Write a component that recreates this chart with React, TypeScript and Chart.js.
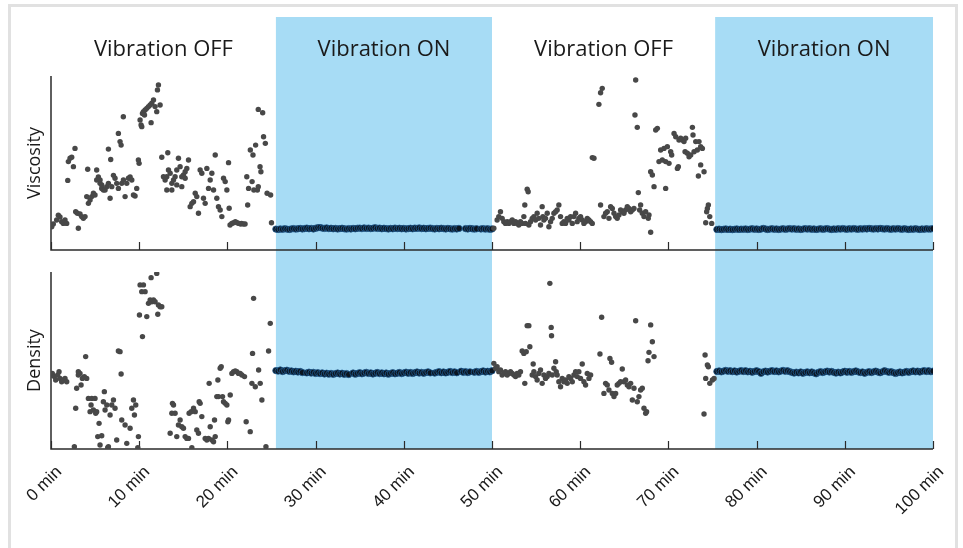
import React, { useEffect, useRef } from 'react';
import { Chart, registerables } from 'chart.js';

Chart.register(...registerables);

// ---------- tick labels / sections ----------
const X_TICKS = [0, 10, 20, 30, 40, 50, 60, 70, 80, 90, 100];
const SECTION_STARTS = [0, 25.5, 50, 75.3];
const SECTION_ENDS = [25.5, 50, 75.3, 100];
const SECTION_LABELS = ['Vibration OFF', 'Vibration ON', 'Vibration OFF', 'Vibration ON'];
const SECTION_ON = [false, true, false, true];

// ---------- Viscosity, vibration OFF: [minute, value] ----------
const viscOff1: number[][] = [
  [0.08, 13.4], [0.26, 15], [0.64, 17.2], [0.83, 20], [1.02, 19], [1.21, 16.3], [1.4, 15.3], [1.59, 17.2], [1.78, 15.3],
  [1.9, 40], [1.97, 50.8], [2.16, 52.7], [2.35, 53.3], [2.54, 47.9], [2.72, 58.4],
  [2.8, 22], [2.99, 21.1], [3.29, 20.7], [3.48, 19.2], [3.67, 18.2], [3.86, 19.2], [3.1, 12.5],
  [4.05, 30.7], [4.24, 26.8], [4.43, 28.7], [4.62, 30.7], [4.81, 32.6], [4.99, 31.6], [4.16, 46.4],
  [5.18, 46], [5.37, 42], [5.56, 38.3], [5.75, 35.4], [5.94, 34.5], [5.18, 40.2], [5.56, 40.2], [5.75, 37.4],
  [6.13, 34.5], [6.32, 36.4], [6.51, 38.3], [6.51, 58], [6.77, 52], [6.7, 29.7], [6.89, 36.4], [7.08, 42.9],
  [7.26, 41.2], [7.45, 38.3], [7.64, 35.4], [8.02, 38.3], [8.21, 40.2],
  [7.64, 67], [7.83, 62.3], [7.95, 60.3], [8.2, 76.6],
  [8.4, 30.7], [8.59, 38.3], [8.78, 41.2], [8.97, 42], [9.16, 40.2], [9.35, 31.6], [9.53, 31], [9.72, 35.4], [9.91, 51.7], [9.99, 49.8],
  [10.1, 74.7], [10.21, 71.8], [10.29, 70.9], [10.37, 78.5], [10.48, 79.5], [10.6, 77.6], [10.67, 80.5], [10.86, 81.4],
  [11.05, 82.4], [11.24, 83.3], [11.35, 73.2], [11.43, 84.3], [11.62, 86.2], [11.8, 82.4], [11.99, 79.5], [12.07, 92], [12.18, 94.8], [12.37, 83.3],
  [12.56, 53.3], [13.24, 55.9], [12.75, 42.1], [12.94, 40.2], [13.13, 42.1], [13.32, 46], [13.51, 44.1], [13.7, 38.3], [13.89, 40.2],
  [14.07, 42.1], [14.26, 46], [14.45, 52.7], [14.64, 47.9], [14.83, 42.1], [15.02, 43.1], [15.21, 45], [15.4, 46.9], [15.59, 51.7],
  [13.13, 34.5], [13.7, 34.5], [14.26, 37.4], [14.83, 36.4], [15.21, 41.2],
  [15.78, 24.9], [15.97, 26.8], [16.16, 27.8], [16.35, 32.6], [16.53, 30.7], [16.72, 21.1], [16.91, 46], [17.1, 44.1], [17.29, 29.7],
  [17.48, 26.8], [17.67, 46.9], [17.86, 35.4], [18.05, 40.2], [18.24, 44.1], [18.43, 34.5], [18.62, 54.6], [18.8, 29.7], [18.99, 24.9],
  [19.18, 23], [19.37, 19.2], [19.56, 41.2], [19.75, 39.3], [19.94, 34.5], [20.13, 50.2], [20.2, 24],
  [20.3, 14.4], [20.5, 15.3], [20.7, 15.7], [20.9, 16.3], [21.1, 15.7], [21.3, 15.3], [21.5, 14.9], [21.6, 15.3], [21.8, 14.9], [22.0, 14.9],
  [22.2, 42.1], [22.3, 25.9], [22.4, 35.4], [22.6, 57.5], [22.8, 39.3], [22.9, 54.6], [23.0, 34.5], [23.2, 60.3], [23.4, 34.5],
  [23.5, 80.8], [23.5, 36.4], [23.7, 47.9], [23.8, 45], [24.0, 78.9], [24.1, 65.1], [24.3, 61.3], [24.5, 32.6], [24.9, 31.6], [25.0, 15.7],
];

const viscOff2: number[][] = [
  [50.21, 12.5], [50.58, 17.2], [50.77, 19.2], [50.96, 22], [51.15, 18.2], [51.34, 16.3], [51.53, 15.3], [51.72, 16.3], [51.91, 15.3],
  [52.1, 16.3], [52.29, 17.2], [52.48, 15.3], [52.67, 16.3], [52.85, 15.3], [53.04, 14.4], [53.23, 16.3], [53.42, 15.3], [53.61, 19.2],
  [53.72, 25.9], [53.8, 15.3], [53.99, 34.9], [54.1, 33.5], [54.18, 14.4], [54.37, 16.3], [54.56, 18.2], [54.75, 19.2], [54.94, 17.2],
  [55.12, 21.1], [55.31, 18.2], [55.5, 14.4], [55.69, 24.9], [55.77, 19.2], [55.88, 17.2], [56.07, 18.2], [56.26, 21.1], [56.45, 13.4],
  [56.64, 16.3], [56.83, 18.2], [57.02, 21.1], [57.21, 22], [57.39, 23], [57.58, 25.9], [57.77, 19.2], [57.96, 15.3], [58.15, 16.3],
  [58.34, 15.3], [58.53, 18.2], [58.72, 17.2], [58.91, 19.2], [59.1, 15.3], [59.29, 19.2], [59.48, 21.1], [59.66, 16.3], [59.85, 18.2],
  [60.04, 19.2], [60.23, 17.2], [60.42, 15.3], [60.61, 16.3], [60.8, 18.2], [60.99, 17.2], [61.18, 16.3], [61.37, 15.3],
  [61.37, 53.1], [61.56, 52.7], [62.12, 83.7], [62.31, 90.4], [62.5, 92.9], [62.31, 25.9],
  [62.69, 19.2], [62.88, 21.1], [63.07, 22], [63.26, 18.2], [63.45, 24.9], [63.64, 23.9], [63.83, 21.1], [64.02, 19.2], [64.2, 18.2],
  [64.39, 20.1], [64.58, 23], [64.77, 22], [64.96, 21.1], [65.15, 23], [65.34, 24.9], [65.53, 23.9], [65.72, 22], [65.91, 23], [66.1, 23.9],
  [66.29, 97.7], [66.21, 77.6], [66.47, 70.5], [66.59, 33],
  [66.74, 23], [66.85, 25.9], [67.04, 21.1], [67.23, 19.2], [67.42, 22], [67.72, 18.2], [67.8, 20.1], [67.99, 10.2],
  [67.99, 45], [68.18, 43.1], [68.37, 36.4], [68.56, 69], [68.75, 69.9], [68.93, 50.8], [69.12, 57.5], [69.31, 51.7], [69.5, 58.4],
  [69.69, 50.8], [69.69, 35.4], [69.88, 59.4], [70.07, 49.8], [70.26, 56.5], [70.37, 54.6], [70.64, 67], [70.83, 65.1], [71.02, 46.9],
  [71.13, 47.9], [71.2, 63.2], [71.39, 64.2], [71.58, 63.2], [71.77, 62.3], [71.89, 56.5], [71.96, 64.2], [72.15, 55.6], [72.34, 53.6],
  [72.53, 54.6], [72.72, 70.5], [72.79, 66.1], [72.91, 56.5], [73.1, 62.3], [73.28, 57.5], [73.47, 62.3], [73.66, 59.4], [73.85, 58.4],
  [73.4, 42.5], [73.66, 48.9], [74.04, 45],
  [74.23, 15.7], [74.34, 22], [74.42, 23.9], [74.53, 25.9], [74.69, 19.2], [74.91, 15.3],
];

// ---------- Viscosity, vibration ON: sampled every 0.25 min ----------
const viscOn1Start = 25.5;
const viscOn1: (number | null)[] = [
  12.0, 11.8, 12.1, 11.9, 12.2, 12.0, 11.8, 12.1, 12.3, 12.0,
  12.2, 12.4, 12.1, 12.3, 12.6, 12.2, 12.4, 12.1, 12.5, 12.8,
  12.9, 12.6, 12.4, 12.7, 12.3, 12.5, 12.2, 12.4, 12.1, 12.3,
  12.5, 12.2, 12.0, 12.3, 12.1, 12.4, 12.2, 12.5, 12.6, 12.3,
  12.7, 12.4, 12.6, 12.3, 12.5, 12.8, 12.4, 12.6, 12.2, 12.5,
  12.3, 12.1, 12.4, 12.2, 12.6, 12.3, 12.5, 12.2, 12.4, 12.1,
  12.3, 12.5, 12.2, 12.6, 12.4, 12.7, 12.3, 12.5, 12.2, 12.4,
  12.6, 12.3, 12.1, 12.4, 12.2, 12.5, 12.3, 12.1, 12.4, 12.2,
  12.0, 12.3, 12.1, 12.4, null, null, 12.3, 12.1, 12.4, 12.2,
  12.0, 12.2, null, 12.1, 12.3, 12.0, 12.2, 11.9, 12.1,
];
const viscOn2Start = 75.5;
const viscOn2: (number | null)[] = [
  11.8, 12.0, 11.7, 11.9, 12.1, 11.8, 12.0, 11.7, 11.9, 12.1,
  11.8, 12.0, 11.9, 12.1, 11.8, 12.0, 12.2, 11.9, 12.1, 11.8,
  12.0, 12.4, 12.1, 11.8, 12.0, 12.2, 11.9, 12.1, 11.8, 12.0,
  12.2, 11.9, 12.1, 12.3, 12.0, 12.2, 11.9, 12.1, 11.8, 12.0,
  12.3, 12.0, 12.2, 11.9, 12.1, 11.8, 12.0, 12.2, 11.9, 12.1,
  12.3, 12.0, 11.8, 12.1, 11.9, 12.2, 12.0, 12.3, 12.1, 11.9,
  12.2, 12.0, 12.3, 12.1, 11.9, 12.2, 12.0, 12.3, 12.1, 12.4,
  12.2, 12.0, 12.3, 12.1, 12.4, 12.2, 12.0, 12.3, 12.1, 11.9,
  12.2, 12.0, 12.3, 12.1, 11.9, 12.2, 12.0, 11.8, 12.1, 11.9,
  12.2, 12.0, 11.8, 12.1, 11.9, 12.2, 12.0, 12.1, 12.3,
];

// ---------- Density, vibration OFF: [minute, value] ----------
const densOff1: number[][] = [
  [0, 41.8], [0.15, 42.7], [0.38, 40.9], [0.53, 39], [0.76, 41.8], [0.91, 43.7], [1.02, 39.9], [1.21, 38], [1.4, 39], [1.59, 39.9], [1.78, 38],
  [2.65, 1.3], [2.8, 23], [2.91, 34.3], [3.1, 41.8], [3.1, 43.7], [3.29, 42.7], [3.41, 36.2], [3.56, 39.9], [3.78, 40.9], [4.05, 39.9], [3.93, 52.2],
  [4.24, 28.6], [4.43, 21.1], [4.54, 24.9], [4.62, 28.6], [4.81, 22], [4.99, 28.6], [5.07, 20.2], [5.18, 21.1], [5.3, 7], [5.45, 14.5],
  [5.56, 2.3], [5.75, 7.5], [5.94, 26.7], [6.05, 32.4], [6.13, 22], [6.32, 24.9], [6.43, 0.8], [6.51, 1.3], [6.7, 19.2], [6.89, 24.9],
  [7.08, 27.7], [7.26, 23], [7.45, 5.1], [7.64, 55.4], [7.83, 55], [7.95, 42.4], [8.02, 16.4], [8.4, 13.6], [8.59, 3.2], [8.97, 11.7],
  [9.16, 23], [9.35, 27.7], [9.46, 19.2], [9.61, 24.9], [9.84, 0.8], [9.91, 7],
  [10.03, 75.7], [10.1, 92.7], [10.29, 88.9], [10.37, 63.5], [10.48, 92.7], [10.67, 88.9], [10.86, 74.8], [11.05, 82.3], [11.24, 84.2],
  [11.35, 96.8], [11.43, 83.2], [11.62, 84.2], [11.8, 83.2], [11.99, 99.2], [12.11, 76.1], [12.18, 81.4], [12.37, 80.4], [12.56, 80.4],
  [13.51, 8.9], [13.7, 20.2], [13.77, 25.8], [13.89, 24.9], [14.07, 20.2], [14.26, 7], [14.45, 13.6], [14.64, 16.4], [14.83, 12.6],
  [15.02, 11.7], [15.21, 7], [15.4, 6], [15.59, 6], [15.66, 20.2], [15.89, 21.1], [15.97, 0.8], [16.16, 23], [16.35, 21.1], [16.53, 10.7],
  [16.72, 8.9], [16.8, 26.7], [16.91, 25.8], [17.1, 18.3], [17.48, 6], [17.67, 5.1], [17.86, 6], [17.93, 37.1], [18.05, 12.6], [18.24, 5.1],
  [18.43, 4.1], [18.54, 16.4], [18.62, 7], [18.8, 29.6], [18.92, 39], [18.99, 29.6], [19.18, 45.6], [19.3, 46.5], [19.45, 29.6],
  [19.56, 26.7], [19.75, 25.8], [19.94, 24.9], [20.05, 15.4], [20.13, 16.4], [20.32, 30.5], [20.51, 42.7], [20.7, 43.7], [20.89, 44.1],
  [21.07, 43.7], [21.26, 42.7], [21.45, 42.7], [21.64, 41.8], [21.94, 40.9], [22.13, 15.4], [22.59, 9.8], [22.78, 37.1], [22.85, 54],
  [22.97, 85.1], [23.16, 35.2], [23.54, 44.6], [23.72, 37.1], [23.91, 27.7], [24.37, 1.3], [24.67, 55.4], [24.86, 71],
];

const densOff2: number[][] = [
  [50.21, 48.4], [50.4, 45.6], [50.58, 46.5], [50.77, 43.7], [50.96, 44.6], [51.15, 41.8], [51.34, 42.7], [51.53, 43.7], [51.72, 41.8],
  [51.91, 42.7], [52.1, 43.7], [52.29, 42.7], [52.48, 41.8], [52.67, 40.9], [52.85, 42.7], [53.04, 41.8], [53.23, 43.7], [53.42, 55.4],
  [53.61, 54], [53.72, 37.1], [53.88, 55], [53.99, 69.7], [54.18, 69.7], [54.29, 57.8], [54.56, 41.8], [54.67, 48], [54.75, 43.7],
  [54.94, 40.9], [55.12, 39], [55.31, 42.7], [55.5, 44.6], [55.69, 37.1], [55.88, 41.8], [56.07, 39.9], [56.26, 40.9], [56.45, 42.7],
  [56.56, 93.6], [56.71, 68.7], [56.75, 64], [56.83, 41.8], [57.02, 45.6], [57.21, 49.3], [57.28, 43.7], [57.39, 41.8], [57.58, 38],
  [57.77, 35.2], [57.96, 39.9], [58.15, 38], [58.34, 39], [58.53, 37.1], [58.72, 40.9], [58.91, 39.9], [59.1, 38], [59.29, 41.8],
  [59.48, 43.7], [59.66, 40.9], [59.85, 43.7], [60.04, 39.9], [60.23, 48], [60.42, 38], [60.61, 36.2], [60.8, 42.7], [60.99, 39.9], [61.18, 41.8],
  [62.24, 53.7], [62.43, 74.4], [62.69, 31.4], [62.88, 37.1], [63.07, 36.2], [63.26, 33.3], [63.37, 51.2], [63.56, 49], [63.64, 31.4],
  [63.83, 29.6], [64.02, 31.4], [64.2, 36.2], [64.39, 37.1], [64.58, 38], [64.77, 45.2], [64.96, 38], [65.15, 39], [65.34, 36.2],
  [65.53, 35.2], [65.72, 37.1], [65.91, 27.7], [66.1, 34.3], [66.29, 72.5], [66.47, 26.7], [66.66, 29.6], [66.85, 33.3], [67.04, 34.3],
  [67.23, 23], [67.42, 20.2], [67.53, 21.1], [67.69, 49.9], [67.8, 54.6], [67.99, 70.1], [68.18, 60.6], [68.37, 52.2],
  [74.04, 19.8], [74.16, 53.1], [74.23, 39.9], [74.42, 47.5], [74.53, 46.5], [74.69, 37.1], [74.99, 39], [75.18, 39.9],
];

// ---------- Density, vibration ON: sampled every 0.25 min ----------
const densOn1Start = 25.5;
const densOn1: (number | null)[] = [
  44.3, 44.0, 44.6, 43.8, 44.2, 44.5, 43.9, 44.1, 43.6, 43.9,
  43.5, 43.8, 43.2, null, 43.0, 43.4, 42.9, 43.3, 42.7, 43.1,
  42.6, 43.0, 42.4, 42.8, 42.3, 42.7, 42.2, 42.6, 42.9, 42.4,
  42.8, 42.2, 42.6, 42.1, null, 42.9, 42.3, 42.7, 43.1, 42.5,
  42.9, 43.3, 42.7, 43.0, 42.4, 42.8, 43.2, 42.6, 43.0, 42.5,
  42.9, 42.3, 42.7, 43.1, 42.5, 42.8, 43.2, 42.6, 43.0, 43.4,
  42.8, 43.2, 42.7, 43.1, 43.5, 42.9, 43.3, 42.8, 43.2, 43.6,
  43.0, null, 42.9, 43.3, 43.7, 43.1, 43.5, 43.0, 43.4, 43.8,
  43.2, 43.6, 43.1, null, 43.9, 43.3, 43.7, 43.2, 43.6, null,
  43.4, 43.8, 43.3, 43.7, 44.1, 43.5, 43.9, 43.6, 44.2,
];
const densOn2Start = 75.5;
const densOn2: (number | null)[] = [
  43.8, 44.1, 43.6, 44.0, 44.4, 43.9, 44.2, 43.7, 44.1, 43.5,
  43.9, 44.3, 43.8, 44.2, 43.6, 43.9, 43.4, 43.8, 44.2, 43.7,
  42.8, 43.6, 44.0, 43.5, 43.9, 44.3, 43.8, 44.1, 43.6, 44.0,
  44.4, 43.9, 44.2, 43.7, 43.3, 42.9, 43.4, 43.0, 43.5, 42.8,
  43.2, 43.6, 43.1, 43.5, 43.0, 42.5, 43.3, 43.7, 43.2, 43.6,
  44.0, 43.5, 43.8, 43.3, 42.9, 43.4, 43.0, 43.5, 43.9, 43.4,
  43.8, 43.3, 43.7, 44.1, 43.6, 43.2, 43.5, 42.8, 43.3, 43.7,
  43.2, 43.6, 44.0, 43.5, 43.1, 43.6, 44.2, 43.8, 43.3, 43.7,
  43.2, 42.7, 43.1, 43.5, 43.0, 43.4, 43.8, 43.3, 43.7, 44.1,
  43.6, 44.0, 43.5, 43.9, 44.3, 43.8, 44.2, 43.7, 44.0,
];
const ON_STEP = 0.25;

// ---------- helpers ----------
const pairsToPoints = (pairs: number[][]) => pairs.map(([x, y]) => ({ x, y }));
const sampledToPoints = (start: number, values: (number | null)[]) =>
  values.map((y, i) => ({ x: start + i * ON_STEP, y }));

const OFF_STYLE = { pointRadius: 2.7, pointBackgroundColor: '#484848', pointBorderWidth: 0, pointHoverRadius: 2.7 };
const ON_STYLE = { pointRadius: 3.2, pointBackgroundColor: '#0b1520', pointBorderColor: '#1f5b8f', pointBorderWidth: 0.8, pointHoverRadius: 3.2 };

const decorPlugin = {
  id: 'panelDecor',
  beforeDatasetsDraw(chart: any, _args: any, opts: any) {
    const { ctx, chartArea, scales } = chart;
    const xs = scales.x;
    ctx.save();
    ctx.fillStyle = '#a7dcf5';
    for (let i = 0; i < SECTION_STARTS.length; i++) {
      if (!SECTION_ON[i]) continue;
      const x0 = xs.getPixelForValue(SECTION_STARTS[i]);
      const x1 = xs.getPixelForValue(SECTION_ENDS[i]);
      const y0 = opts.shadeTop;
      const y1 = opts.shadeToCanvasBottom ? chart.height : chartArea.bottom;
      ctx.fillRect(x0, y0, x1 - x0, y1 - y0);
    }
    // axes
    ctx.strokeStyle = '#2b2b2b';
    ctx.lineWidth = 1.5;
    ctx.beginPath();
    ctx.moveTo(chartArea.left, chartArea.top);
    ctx.lineTo(chartArea.left, chartArea.bottom);
    ctx.lineTo(chartArea.right, chartArea.bottom);
    ctx.stroke();
    ctx.lineWidth = 1.2;
    ctx.beginPath();
    for (const t of X_TICKS) {
      const px = Math.round(xs.getPixelForValue(t)) + 0.5;
      ctx.moveTo(px, chartArea.bottom);
      ctx.lineTo(px, chartArea.bottom - 8);
    }
    ctx.stroke();
    ctx.restore();
  },
  afterDraw(chart: any, _args: any, opts: any) {
    if (!opts.showTitles) return;
    const { ctx, scales } = chart;
    const xs = scales.x;
    ctx.save();
    ctx.fillStyle = '#1a1a1a';
    ctx.font = '22px "Open Sans"';
    ctx.textAlign = 'center';
    ctx.textBaseline = 'middle';
    for (let i = 0; i < SECTION_STARTS.length; i++) {
      const cx = xs.getPixelForValue((SECTION_STARTS[i] + SECTION_ENDS[i]) / 2);
      ctx.fillText(SECTION_LABELS[i], cx, 50);
    }
    ctx.restore();
  },
};

function makeConfig(kind: 'top' | 'bottom') {
  const isTop = kind === 'top';
  const off1 = isTop ? viscOff1 : densOff1;
  const off2 = isTop ? viscOff2 : densOff2;
  const on1 = isTop ? sampledToPoints(viscOn1Start, viscOn1) : sampledToPoints(densOn1Start, densOn1);
  const on2 = isTop ? sampledToPoints(viscOn2Start, viscOn2) : sampledToPoints(densOn2Start, densOn2);
  return {
    type: 'scatter' as const,
    data: {
      datasets: [
        { label: 'off1', data: pairsToPoints(off1), ...OFF_STYLE },
        { label: 'off2', data: pairsToPoints(off2), ...OFF_STYLE },
        { label: 'on1', data: on1, ...ON_STYLE },
        { label: 'on2', data: on2, ...ON_STYLE },
      ],
    },
    options: {
      responsive: false,
      animation: false as const,
      events: [],
      layout: { padding: { left: 20, right: 30, top: isTop ? 76 : 10, bottom: 0 } },
      plugins: {
        legend: { display: false },
        tooltip: { enabled: false },
        panelDecor: {
          shadeTop: isTop ? 17 : 0,
          shadeToCanvasBottom: isTop,
          showTitles: isTop,
        },
      },
      scales: {
        x: {
          type: 'linear' as const,
          min: 0,
          max: 100,
          grid: { display: false, drawTicks: false },
          border: { display: false },
          ticks: isTop
            ? { display: false, stepSize: 10 }
            : {
                display: true,
                stepSize: 10,
                autoSkip: false,
                minRotation: 45,
                maxRotation: 45,
                padding: 13,
                labelOffset: 8,
                color: '#1a1a1a',
                font: { family: '"Liberation Sans", Arial, sans-serif', size: 17 },
                callback: (v: any) => `${v} min`,
              },
          afterFit: (s: any) => {
            s.height = isTop ? 12 : 99;
          },
        },
        y: {
          min: 0,
          max: 100,
          grid: { display: false, drawTicks: false },
          border: { display: false },
          ticks: { display: false },
          title: {
            display: true,
            text: isTop ? 'Viscosity' : 'Density',
            color: '#1a1a1a',
            font: { family: '"Open Sans", sans-serif', size: 18 },
            padding: { top: 4, bottom: 0 },
          },
          afterFit: (s: any) => {
            s.width = 31;
          },
        },
      },
    },
    plugins: [decorPlugin],
  };
}

function Panel({ kind, top, height }: { kind: 'top' | 'bottom'; top: number; height: number }) {
  const ref = useRef<HTMLCanvasElement>(null);
  useEffect(() => {
    if (!ref.current) return;
    const chart = new Chart(ref.current, makeConfig(kind) as any);
    return () => chart.destroy();
  }, [kind]);
  return (
    <canvas
      ref={ref}
      width={963}
      height={height}
      style={{ position: 'absolute', left: 0, top, width: 963, height }}
    />
  );
}

export default function App() {
  return (
    <div style={{ position: 'absolute', left: 0, top: 0, width: 963, height: 548, background: '#fff', overflow: 'hidden' }}>
      <div
        style={{
          position: 'absolute',
          left: 8,
          top: 4,
          width: 950,
          height: 550,
          border: '3px solid #e1e1e1',
          boxSizing: 'border-box',
        }}
      />
      <Panel kind="top" top={0} height={262} />
      <Panel kind="bottom" top={262} height={286} />
    </div>
  );
}
